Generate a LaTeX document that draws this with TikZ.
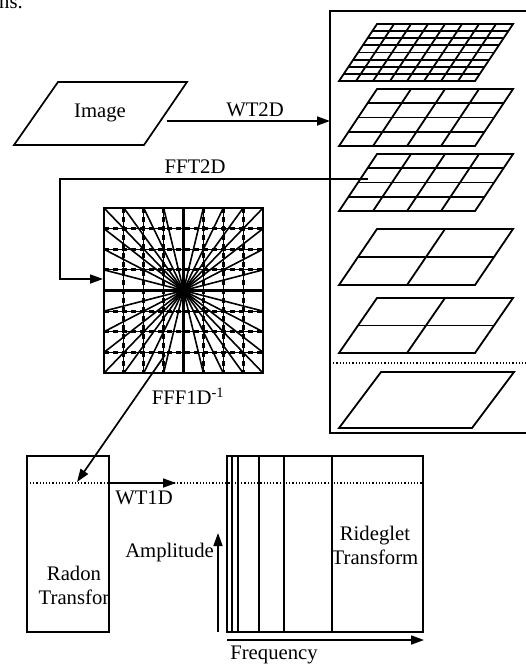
\documentclass[tikz,border=0pt]{standalone}
\usepackage{fontspec}
\setmainfont{Liberation Serif}
\usetikzlibrary{arrows.meta}
\tikzset{
  lbl/.style={inner sep=0pt, font=\fontsize{20.7}{24}\selectfont, align=center},
  edge/.style={line width=1.7pt},
  arr/.style={line width=1.7pt, -{Triangle[length=13pt,width=9pt]}},
  boxline/.style={line width=2pt},
  gridline/.style={line width=1.8pt},
}
\newcommand{\pgridlayer}[4]{% #1 top y, #2 bottom y, #3 nx, #4 ny
  \pgfmathsetmacro{\yt}{#1}\pgfmathsetmacro{\yb}{#2}
  \draw[gridline] (339,\yb) -- (475,\yb) -- (513,\yt) -- (377,\yt) -- cycle;
  \foreach \k in {1,...,#3}{
    \pgfmathsetmacro{\fx}{\k/#3}
    \ifnum\k<#3
    \draw[gridline] ({339+136*\fx},\yb) -- ({377+136*\fx},\yt);
    \fi
  }
  \foreach \k in {1,...,#4}{
    \pgfmathsetmacro{\fy}{\k/#4}
    \ifnum\k<#4
    \draw[gridline] ({339+38*\fy},{\yb+(\yt-\yb)*\fy}) -- ({475+38*\fy},{\yb+(\yt-\yb)*\fy});
    \fi
  }
}
\begin{document}
\begin{tikzpicture}[x=1pt,y=-1pt]
\useasboundingbox (0,0) rectangle (526,664);
% cut text at top-left
\node[lbl, anchor=base west] (ns) at (-1,8) {ns.};

% Image parallelogram
\draw[edge] (14,145) -- (144,145) -- (187,82) -- (58,82) -- cycle;
\node[lbl] (img) at (100,113) {Image};

% right box
\draw[boxline] (540,11) -- (330,11) -- (330,433) -- (540,433);
\pgridlayer{24}{81}{8}{8}
\pgridlayer{89}{146}{4}{4}
\pgridlayer{154}{211}{4}{4}
\pgridlayer{229}{285}{2}{2}
\pgridlayer{298}{353}{2}{2}
\draw[gridline] (339,428) -- (472,428) -- (514,372) -- (381,372) -- cycle;
\coordinate (dotL) at (330,363);
\coordinate (dotR) at (526,363);
\draw[line width=1.2pt, dash pattern=on 1.2pt off 2pt] (dotL) -- (dotR);

% WT2D
\coordinate (wtA) at (167,121);
\coordinate (wtB) at (330,121);
\draw[arr] (wtA) -- (wtB);
\node[lbl] (wt2d) at (255,110) {WT2D};

% FFT2D
\coordinate (fA) at (368,179);
\coordinate (fB) at (60,179);
\coordinate (fC) at (60,279);
\coordinate (fD) at (103,279);
\draw[arr] (fA) -- (fB) -- (fC) -- (fD);
\node[lbl] (fft2d) at (195,167) {FFT2D};

% pseudo-polar square
\begin{scope}
\clip (104,208) rectangle (263,373);
\foreach \i in {1,...,7}{
  \pgfmathsetmacro{\gx}{104+\i*19.875}
  \pgfmathsetmacro{\gy}{208+\i*20.625}
  \draw[line width=1pt] (\gx,208) -- (\gx,373);
  \draw[line width=1pt] (104,\gy) -- (263,\gy);
}
\foreach \i in {1,2,3,5,6,7}{
  \pgfmathsetmacro{\gx}{104+\i*19.875}
  \pgfmathsetmacro{\gy}{208+\i*20.625}
  \draw[line width=3pt, dash pattern=on 5pt off 4pt] (\gx,208) -- (\gx,373);
  \draw[line width=3pt, dash pattern=on 5pt off 4pt] (104,\gy) -- (263,\gy);
}
\draw[line width=2.4pt] (183.5,208) -- (183.5,373);
\draw[line width=2.4pt] (104,290.5) -- (263,290.5);
\foreach \i in {0,...,8}{
  \pgfmathsetmacro{\gx}{104+\i*19.875}
  \pgfmathsetmacro{\hx}{263-\i*19.875}
  \draw[line width=1.6pt] (\gx,208) -- (\hx,373);
}
\foreach \j in {1,...,7}{
  \pgfmathsetmacro{\gy}{208+\j*20.625}
  \pgfmathsetmacro{\hy}{373-\j*20.625}
  \draw[line width=1.6pt] (104,\gy) -- (263,\hy);
}
\end{scope}
\node[draw, line width=2.8pt, minimum width=159pt, minimum height=165pt, inner sep=0pt] (sq) at (183.5,290.5) {};

% FFF1D^-1
\node[lbl] (fff) at (188,396) {FFF1D\textsuperscript{-1}};
\coordinate (iA) at (165,355);
\coordinate (iB) at (77,482);
\draw[arr] (iA) -- (iB);

% Radon box
\node[draw, boxline, minimum width=82pt, minimum height=176pt, inner sep=0pt] (radon) at (68,544) {};
\node[lbl] (radontxt) at (74,585) {Radon\\Transfor};

% spectrum box
\node[draw, boxline, minimum width=196pt, minimum height=176pt, inner sep=0pt] (spec) at (325,544) {};
\foreach \vx in {232,238,259,284,332}{
  \draw[boxline] (\vx,456) -- (\vx,632);
}
\node[lbl] (ridge) at (375,545) {Rideglet\\Transform};

% dotted line
\coordinate (dl) at (30,483);
\coordinate (dr) at (423,483);
\draw[line width=1.2pt, dash pattern=on 1.2pt off 2pt] (dl) -- (dr);

% WT1D
\coordinate (w1A) at (109,483);
\coordinate (w1B) at (176,483);
\draw[arr] (w1A) -- (w1B);
\node[lbl] (wt1d) at (144,498) {WT1D};

% Amplitude
\coordinate (amA) at (218,632);
\coordinate (amB) at (218,533);
\draw[arr] (amA) -- (amB);
\node[lbl, anchor=east] (amp) at (214,553) {Amplitude};

% Frequency
\coordinate (frA) at (227,640);
\coordinate (frB) at (424,640);
\draw[arr] (frA) -- (frB);
\node[lbl] (freq) at (274,655) {Frequency};
\end{tikzpicture}
\end{document}
